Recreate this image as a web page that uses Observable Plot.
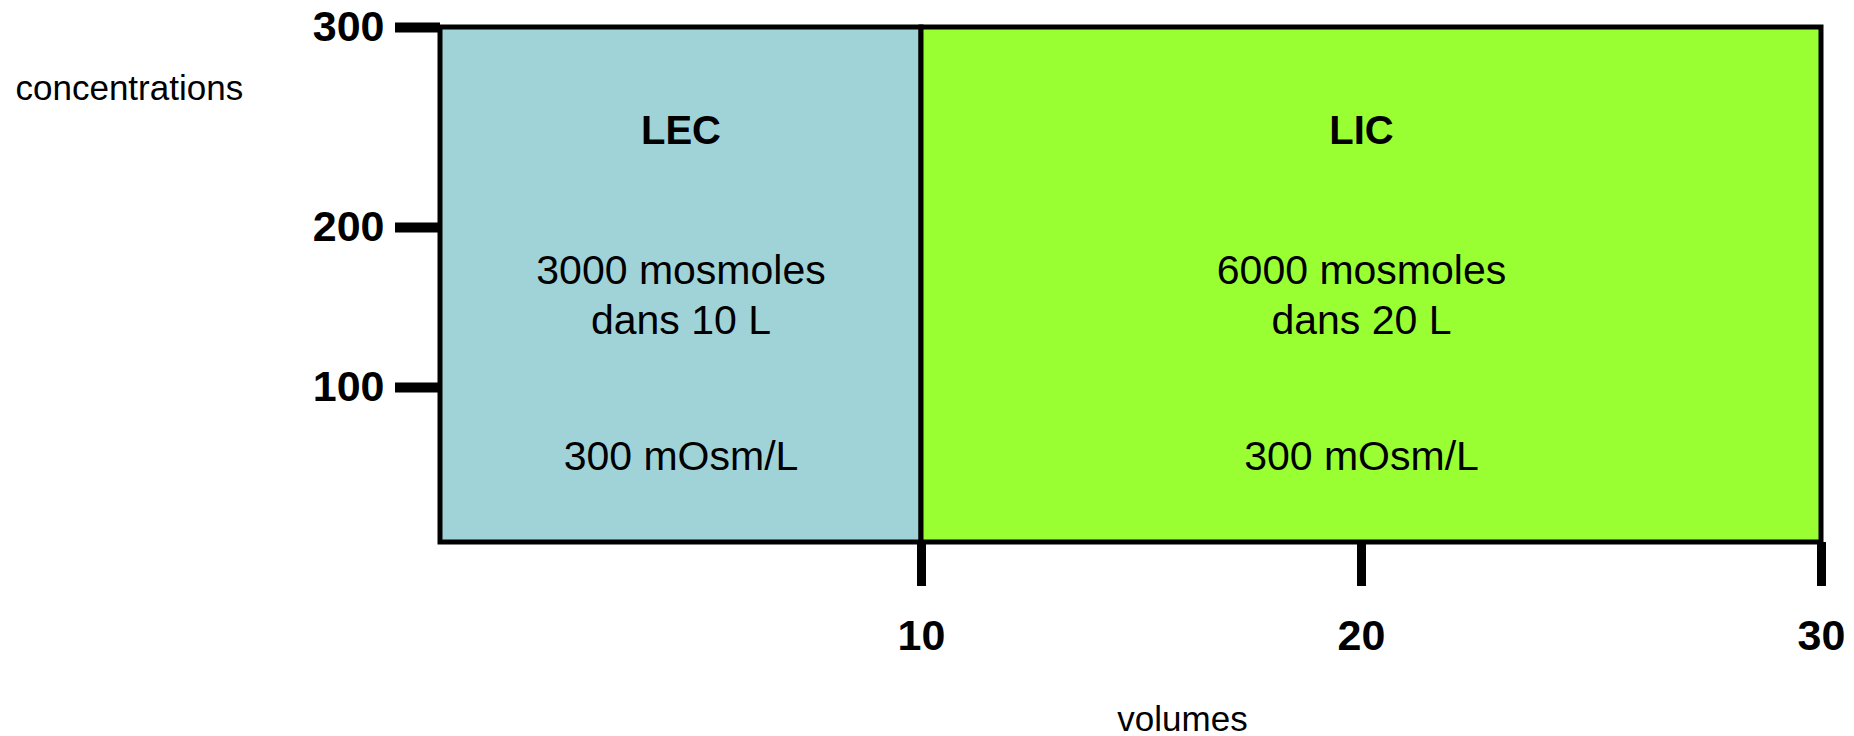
<!DOCTYPE html>
<html>
<head>
<meta charset="utf-8">
<script src="https://cdn.jsdelivr.net/npm/d3@7"></script>
<script src="https://cdn.jsdelivr.net/npm/@observablehq/plot@0.6"></script>
<style>
  html, body { margin: 0; padding: 0; background: #fff; }
  #chart svg { display: block; }
</style>
</head>
<body>
<div id="chart"></div>
<script>
// ---- data ----
const compartments = ["LEC", "LIC"];
const volumeStart = [0, 10];
const volumeEnd = [10, 30];
const volumesL = [10, 20];
const mosmoles = [3000, 6000];
const concentrations = [300, 300];
const xTicks = [10, 20, 30];
const yTicks = [100, 200, 300];
const xLabel = "volumes";
const yLabel = "concentrations";

// ---- styles ----
const fills = ["#a0d3d7", "#99ff33"];
const font = "'Liberation Sans', Arial, Helvetica, sans-serif";

const rows = compartments.map((name, i) => ({
  name,
  start: volumeStart[i],
  end: volumeEnd[i],
  volume: volumesL[i],
  mosm: mosmoles[i],
  conc: concentrations[i]
}));
const mid = d => (d.start + d.end) / 2;

const chart = Plot.plot({
  width: 1854,
  height: 736,
  marginLeft: 440,
  marginRight: 32,
  marginTop: 27,
  marginBottom: 194,
  style: { fontFamily: font, color: "#000", background: "#fff", overflow: "visible" },
  x: { type: "linear", domain: [0, ...xTicks], range: [440, 921, 1361, 1821] },
  y: { type: "linear", domain: [0, ...yTicks], range: [542, 387, 227, 27] },
  color: { domain: compartments, range: fills },
  marks: [
    Plot.axisY(yTicks, { tickSize: 45, tickPadding: 11, strokeWidth: 10, fontSize: 43, fontWeight: "bold", label: null }),
    Plot.axisX(xTicks, { tickSize: 44, tickPadding: 33, strokeWidth: 9, fontSize: 43, fontWeight: "bold", label: null }),
    Plot.rect(rows, { x1: "start", x2: "end", y1: 0, y2: "conc", fill: "name", stroke: "#000", strokeWidth: 5 }),
    Plot.text(rows, { x: mid, y: 248, text: "name", fontSize: 40, fontWeight: "bold" }),
    Plot.text(rows, { x: mid, y: 159, text: d => `${d.mosm} mosmoles\ndans ${d.volume} L`, fontSize: 41, lineHeight: 1.22 }),
    Plot.text(rows, { x: mid, y: 55, text: d => `${d.conc} mOsm/L`, fontSize: 41 }),
    Plot.text([yLabel], { text: d => d, frameAnchor: "top-left", textAnchor: "start", lineAnchor: "top", dx: -425, dy: 48, fontSize: 35 }),
    Plot.text([xLabel], { text: d => d, frameAnchor: "bottom", lineAnchor: "top", dx: 51, dy: 164, fontSize: 35 })
  ]
});
document.getElementById("chart").appendChild(chart);
</script>
</body>
</html>
